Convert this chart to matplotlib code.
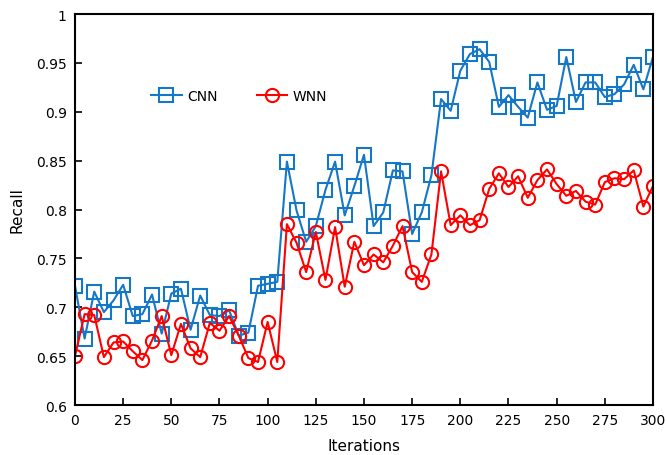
import numpy as np
import matplotlib
matplotlib.use("Agg")
import matplotlib.pyplot as plt
from matplotlib.ticker import FuncFormatter

#---------------------------------
# Data
#---------------------------------

iterations = list(range(0, 301, 5))

cnn = [0.722, 0.668, 0.716, 0.695, 0.707, 0.723, 0.691, 0.693, 0.713, 0.673,
       0.714, 0.719, 0.677, 0.712, 0.692, 0.691, 0.697, 0.671, 0.674, 0.722,
       0.724, 0.726, 0.849, 0.799, 0.767, 0.783, 0.820, 0.849, 0.794, 0.824,
       0.856, 0.783, 0.797, 0.840, 0.839, 0.775, 0.797, 0.835, 0.913, 0.901,
       0.942, 0.959, 0.964, 0.951, 0.905, 0.917, 0.905, 0.894, 0.930, 0.902,
       0.906, 0.956, 0.910, 0.930, 0.930, 0.915, 0.918, 0.928, 0.948, 0.923,
       0.956]

wnn = [0.650, 0.693, 0.692, 0.649, 0.664, 0.665, 0.655, 0.646, 0.666, 0.691,
       0.651, 0.683, 0.658, 0.649, 0.684, 0.676, 0.691, 0.671, 0.648, 0.644,
       0.685, 0.644, 0.785, 0.766, 0.736, 0.777, 0.728, 0.782, 0.721, 0.767,
       0.743, 0.754, 0.746, 0.763, 0.783, 0.736, 0.726, 0.754, 0.839, 0.784,
       0.794, 0.784, 0.789, 0.821, 0.837, 0.823, 0.834, 0.812, 0.830, 0.841,
       0.826, 0.814, 0.819, 0.808, 0.805, 0.828, 0.832, 0.831, 0.840, 0.803,
       0.824]

x_ticks = list(range(0, 301, 25))
y_ticks = [0.6, 0.65, 0.7, 0.75, 0.8, 0.85, 0.9, 0.95, 1.0]

#---------------------------------
# Plot
#---------------------------------

plt.rcParams["font.family"] = ["DejaVu Sans"]

fig = plt.figure(figsize=(6.67, 4.56), dpi=100)
ax = fig.add_axes([0.1124, 0.1096, 0.8666, 0.8575])

ax.plot(iterations, cnn, color="#1577c6", lw=1.5, marker="s", ms=9.5,
        mfc="none", mew=1.5, label="CNN")
ax.plot(iterations, wnn, color="#ff0000", lw=1.5, marker="o", ms=9.5,
        mfc="none", mew=1.5, label="WNN")

ax.set_xlim(0, 300)
ax.set_ylim(0.6, 1.0)
ax.set_xticks(x_ticks)
ax.set_yticks(y_ticks)
ax.yaxis.set_major_formatter(FuncFormatter(lambda v, p: f"{v:g}"))
ax.tick_params(direction="in", length=5, width=1.2, labelsize=10, pad=6)
for s in ax.spines.values():
    s.set_linewidth(1.5)

ax.set_xlabel("Iterations", fontsize=11, labelpad=8)
ax.set_ylabel("Recall", fontsize=11, labelpad=8)

ax.legend(loc="upper left", bbox_to_anchor=(0.11, 0.84), ncol=2,
          frameon=False, fontsize=10, handlelength=2.2, handletextpad=0.4,
          columnspacing=2.8)

fig.savefig("out.png", dpi=100)
